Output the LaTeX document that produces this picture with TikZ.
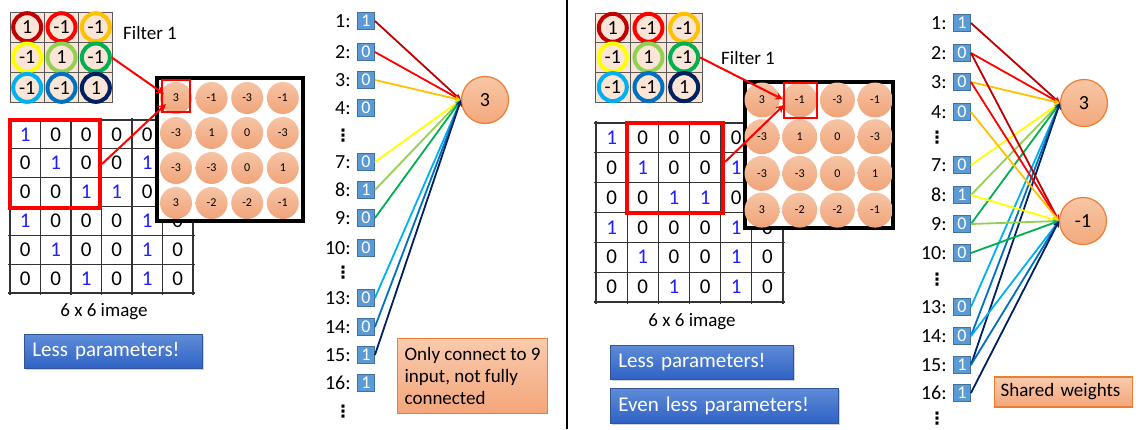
\documentclass[tikz,border=0pt]{standalone}
\usepackage{fontspec}
\setmainfont{Carlito}
\newfontfamily\symbolfont{DejaVu Sans}
\usepackage{tikz}
\usetikzlibrary{
    positioning,
    arrows.meta,
    shadows
}

\definecolor{cellPeach}{HTML}{FBE5D6}
\definecolor{wDkRed}{HTML}{C00000}
\definecolor{wRed}{HTML}{FF0000}
\definecolor{wGold}{HTML}{FFC000}
\definecolor{wYellow}{HTML}{FFFF00}
\definecolor{wLtGreen}{HTML}{92D050}
\definecolor{wGreen}{HTML}{00B050}
\definecolor{wLtBlue}{HTML}{00B0F0}
\definecolor{wBlue}{HTML}{0070C0}
\definecolor{wNavy}{HTML}{002060}
\definecolor{oneBlue}{HTML}{1F1FFF}
\definecolor{mapTop}{HTML}{F6C4A4}
\definecolor{mapBottom}{HTML}{F0A47A}
\definecolor{inBlue}{HTML}{5B9BD5}
\definecolor{inBorder}{HTML}{41719C}
\definecolor{outTop}{HTML}{F8C6A6}
\definecolor{outBottom}{HTML}{F3A97C}
\definecolor{outBorder}{HTML}{ED7D31}
\definecolor{btnTop}{HTML}{5F8CD8}
\definecolor{btnBottom}{HTML}{2F62C4}
\definecolor{btnBorder}{HTML}{2F5597}
\definecolor{noteTop}{HTML}{F8CBAD}
\definecolor{noteBottom}{HTML}{F4A57A}
\definecolor{noteBorder}{HTML}{ED7D31}

\begin{document}
\begin{tikzpicture}[
      x=0.5pt, y=-0.5pt,
      % Grids
      fgrid/.style={draw=black!65, line width=0.5pt},
      igrid/.style={draw=black!80, line width=0.6pt},
      fring/.style={
          circle,
          fill=cellPeach,
          line width=2pt,
          minimum size=14pt,
          inner sep=0pt,
          font=\fontsize{10}{12}\selectfont
        },
      cellnum/.style={inner sep=0pt, font=\fontsize{10.5}{12}\selectfont},
      % Feature map
      mapbox/.style={rectangle, draw=black, line width=1.8pt, fill=white},
      mapcell/.style={
          circle,
          inner sep=0pt,
          top color=mapTop,
          bottom color=mapBottom,
          font=\fontsize{6}{7}\selectfont
        },
      redbox/.style={rectangle, draw=red, line width=2pt},
      selbox/.style={rectangle, draw=red, line width=1pt},
      redarrow/.style={
          -{Stealth[length=4pt,width=4pt]}, % Arrow tip style
          red,
          line width=1pt
        },
      % Inputs and outputs
      inbox/.style={
          rectangle,
          draw=inBorder,
          fill=inBlue,
          text=white,
          minimum size=8.5pt,
          inner sep=0pt,
          font=\fontsize{9}{10}\selectfont
        },
      inlabel/.style={inner sep=0pt, font=\fontsize{10}{12}\selectfont},
      skipdots/.style={inner sep=0pt, font=\symbolfont\bfseries\fontsize{8.5}{9}\selectfont},
      outnode/.style={
          circle,
          draw=outBorder,
          line width=0.6pt,
          top color=outTop,
          bottom color=outBottom,
          minimum size=23.5pt,
          inner sep=0pt,
          font=\fontsize{10}{12}\selectfont
        },
      wire/.style={
          -{Stealth[length=3pt,width=3pt]},
          line width=0.9pt
        },
      % Text boxes
      bluebtn/.style={
          rectangle,
          draw=btnBorder,
          line width=0.4pt,
          top color=btnTop,
          bottom color=btnBottom,
          text=white,
          align=left,
          inner sep=4pt,
          anchor=west,
          font=\fontsize{10.5}{12}\selectfont,
          drop shadow={opacity=0.35, shadow xshift=0.8pt, shadow yshift=-0.8pt}
        },
      note/.style={
          rectangle,
          draw=noteBorder,
          line width=0.6pt,
          top color=noteTop,
          bottom color=noteBottom,
          align=left,
          inner sep=3pt,
          font=\fontsize{9.5}{11}\selectfont
        },
      caption/.style={inner sep=0pt, font=\fontsize{9.5}{11}\selectfont},
      divider/.style={black, line width=1pt}
    ]

    \useasboundingbox (0,0) rectangle (1143,429);

    % ---------------- Left half ----------------

    % Filter 1
    \fill[cellPeach] (10,12) rectangle (113,103);
    \foreach \i in {0,...,3} {
        \draw[fgrid] (10+34.33*\i,12) -- (10+34.33*\i,103);
        \draw[fgrid] (10,12+30.33*\i) -- (113,12+30.33*\i);
      }
    \foreach \v/\col [count=\k from 0] in {1/wDkRed,-1/wRed,-1/wGold,-1/wYellow,1/wLtGreen,-1/wGreen,-1/wLtBlue,-1/wBlue,1/wNavy} {
        \pgfmathtruncatemacro\r{\k/3}
        \pgfmathtruncatemacro\cc{mod(\k,3)}
        \node[fring, draw=\col] (LF\k) at (27.2+34.33*\cc,27.2+30.33*\r) {\v};
      }
    \node[caption] (LFname) at (150,33) {Filter 1};

    % 6 x 6 image (cells under the feature map are left out)
    \foreach \i in {0,...,6} {
        \draw[igrid] (10+30.5*\i,118) -- (10+30.5*\i,295);
        \draw[igrid] (8,120+28.83*\i) -- (195,120+28.83*\i);
      }
    \foreach \row [count=\r from 0] in {{1,0,0,0,0,1},{0,1,0,0,1,0},{0,0,1,1,0,0},{1,0,0,0,1,0},{0,1,0,0,1,0},{0,0,1,0,1,0}}
    \foreach \v [count=\cc from 0] in \row {
        \pgfmathtruncatemacro\hidden{(\cc==5)&&(\r<3)}
        \ifnum\hidden=0
          \ifnum\v=1 \def\numcol{oneBlue}\else\def\numcol{black}\fi
          \node[cellnum, text=\numcol] (LI\r\cc) at (25.25+30.5*\cc,134.4+28.83*\r) {\v};
        \fi
      }
    \node[caption] (Ldim) at (104,312) {6 x 6 image};

    % Feature map
    \node[mapbox, minimum width=73pt, minimum height=71.5pt] (Lmap) at (230,149.5) {};
    \foreach \row [count=\r from 0] in {{3,-1,-3,-1},{-3,1,0,-3},{-3,-3,0,1},{3,-2,-2,-1}}
    \foreach \v [count=\cc from 0] in \row {
        \node[mapcell, minimum size=16pt] (LM\r\cc) at (176+35.6*\cc,98+35*\r) {\v};
      }
    \node[selbox, minimum width=14pt, minimum height=16pt] (Lsel) at (176,96) {};
    \node[redbox, minimum width=45pt, minimum height=44pt] (LRed) at (55,164) {};

    \draw[redarrow] (LF5.east) -- ([xshift=1.5pt,yshift=1pt]Lsel.west);
    \draw[redarrow] (LRed.east) -- ([xshift=2.5pt,yshift=4.5pt]Lsel.south west);

    \node[bluebtn, text width=81pt, minimum height=16.5pt] (LLess) at (24,351.5) {Less parameters!};

    % Inputs and the output neuron
    \foreach \n/\v/\y in {1/1/21,2/0/52,3/0/80,4/0/108,7/0/162,8/1/190,9/0/218,10/0/248,13/0/298,14/0/327,15/1/355,16/1/383} {
        \node[inbox] (Lin\n) at (366,\y) {\v};
        \node[inlabel, left=3pt of Lin\n] (Llab\n) {\n:};
      }
    \node[skipdots] (Ldots1) at (343,136) {⋮};
    \node[skipdots] (Ldots2) at (343,273) {⋮};
    \node[skipdots] (Ldots3) at (343,412) {⋮};

    \node[outnode] (Lout) at (485,100) {3};

    \foreach \n/\col in {1/wDkRed,2/wRed,3/wGold,7/wYellow,8/wLtGreen,9/wGreen,13/wLtBlue,14/wBlue,15/wNavy}
    \draw[wire, color=\col] (Lin\n.east) -- (Lout.west);

    \node[note, minimum width=75pt, minimum height=37.5pt, anchor=north west] (Lnote) at (397,338)
    {Only connect to 9\\input, not fully\\connected};

    % Divider
    \draw[divider] (567,0) -- (567,429);

    % ---------------- Right half ----------------

    % Filter 1
    \fill[cellPeach] (595,13) rectangle (702,102);
    \foreach \i in {0,...,3} {
        \draw[fgrid] (595+35.67*\i,13) -- (595+35.67*\i,102);
        \draw[fgrid] (595,13+29.67*\i) -- (702,13+29.67*\i);
      }
    \foreach \v/\col [count=\k from 0] in {1/wDkRed,-1/wRed,-1/wGold,-1/wYellow,1/wLtGreen,-1/wGreen,-1/wLtBlue,-1/wBlue,1/wNavy} {
        \pgfmathtruncatemacro\r{\k/3}
        \pgfmathtruncatemacro\cc{mod(\k,3)}
        \node[fring, draw=\col] (RF\k) at (612.8+35.67*\cc,27.8+29.67*\r) {\v};
      }
    \node[caption] (RFname) at (748,58) {Filter 1};

    % 6 x 6 image (cells under the feature map are left out)
    \foreach \i in {0,...,6} {
        \draw[igrid] (596+31.17*\i,121) -- (596+31.17*\i,304);
        \draw[igrid] (594,123+29.83*\i) -- (785,123+29.83*\i);
      }
    \foreach \row [count=\r from 0] in {{1,0,0,0,0,1},{0,1,0,0,1,0},{0,0,1,1,0,0},{1,0,0,0,1,0},{0,1,0,0,1,0},{0,0,1,0,1,0}}
    \foreach \v [count=\cc from 0] in \row {
        \pgfmathtruncatemacro\hidden{(\cc==5)&&(\r<3)}
        \ifnum\hidden=0
          \ifnum\v=1 \def\numcol{oneBlue}\else\def\numcol{black}\fi
          \node[cellnum, text=\numcol] (RI\r\cc) at (611.6+31.17*\cc,137.9+29.83*\r) {\v};
        \fi
      }
    \node[caption] (Rdim) at (692,322) {6 x 6 image};

    % Feature map
    \node[mapbox, minimum width=74pt, minimum height=73pt] (Rmap) at (819,155) {};
    \foreach \row [count=\r from 0] in {{3,-1,-3,-1},{-3,1,0,-3},{-3,-3,0,1},{3,-2,-2,-1}}
    \foreach \v [count=\cc from 0] in \row {
        \node[mapcell, minimum size=17.5pt] (RM\r\cc) at (762+37.7*\cc,100+36.7*\r) {\v};
      }
    \node[selbox, minimum width=16.5pt, minimum height=17.5pt] (Rsel) at (800.5,100.5) {};
    \node[redbox, minimum width=48pt, minimum height=45pt] (RRed) at (675,168) {};

    \draw[redarrow] (RF5.east) -- ([yshift=0.5pt]Rsel.west);
    \draw[redarrow] ([yshift=3pt]RRed.east) -- ([xshift=0.5pt,yshift=-2.2pt]Rsel.west);

    \node[bluebtn, text width=83.5pt, minimum height=17pt] (RLess) at (610,362) {Less parameters!};
    \node[bluebtn, text width=106pt, minimum height=17.5pt] (REven) at (610,405.5) {Even less parameters!};

    % Inputs and the two output neurons
    \foreach \n/\v/\y in {1/1/23,2/0/53,3/0/82,4/0/112,7/0/165,8/1/195,9/0/224,10/0/253,13/0/307,14/0/336,15/1/365,16/1/393} {
        \node[inbox] (Rin\n) at (962,\y) {\v};
        \node[inlabel, left=3pt of Rin\n] (Rlab\n) {\n:};
      }
    \node[skipdots] (Rdots1) at (937,138) {⋮};
    \node[skipdots] (Rdots2) at (937,280) {⋮};
    \node[skipdots] (Rdots3) at (937,419) {⋮};

    \node[outnode] (RoutA) at (1084,103) {3};
    \node[outnode] (RoutB) at (1083,221) {-1};

    \foreach \n/\col in {1/wDkRed,2/wRed,3/wGold,7/wYellow,8/wLtGreen,9/wGreen,13/wLtBlue,14/wBlue,15/wNavy}
    \draw[wire, color=\col] (Rin\n.east) -- (RoutA.west);
    \foreach \n/\col in {2/wDkRed,3/wRed,4/wGold,8/wYellow,9/wLtGreen,10/wGreen,14/wLtBlue,15/wBlue,16/wNavy}
    \draw[wire, color=\col] (Rin\n.east) -- (RoutB.west);

    \node[note, text width=63pt, minimum height=15pt, anchor=west] (Rnote) at (994,392) {Shared weights};

  \end{tikzpicture}
\end{document}
